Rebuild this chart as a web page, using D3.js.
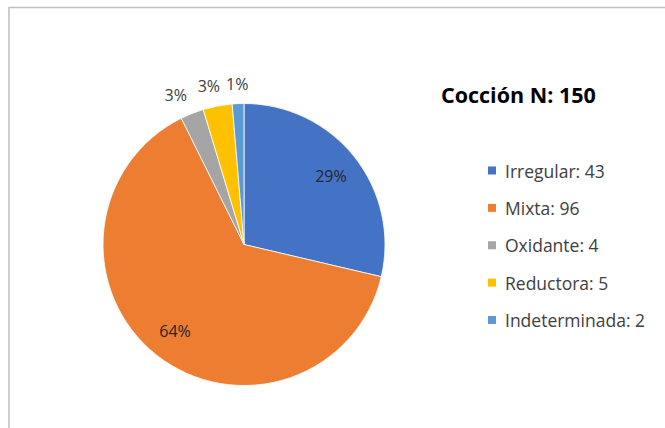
<!DOCTYPE html>
<html>
<head>
<meta charset="utf-8">
<script src="https://cdn.jsdelivr.net/npm/d3@7"></script>
<style>
  html, body { margin: 0; padding: 0; background: #fff; }
  svg { display: block; }
</style>
</head>
<body>
<svg id="chart" width="665" height="428"></svg>
<script>
const categories = ["Irregular", "Mixta", "Oxidante", "Reductora", "Indeterminada"];
const values = [43, 96, 4, 5, 2];
const colors = ["#4472C4", "#ED7D31", "#A5A5A5", "#FFC000", "#5B9BD5"];
const title = "Cocción N: 150";

const svg = d3.select("#chart");
const W = 665, H = 428;

// chart frame
svg.append("rect")
  .attr("x", 9).attr("y", 7.5)
  .attr("width", W + 10).attr("height", H + 10)
  .attr("fill", "#fff")
  .attr("stroke", "#bfbfbf").attr("stroke-width", 1.5);

const cx = 244, cy = 244.5, r = 141;
const total = d3.sum(values);
const data = categories.map((c, i) => ({ cat: c, value: values[i], color: colors[i] }));

const pie = d3.pie().value(d => d.value).sort(null);
const arcs = pie(data);
const arc = d3.arc().innerRadius(0).outerRadius(r);
const inLabelArc = d3.arc().innerRadius(111).outerRadius(111);
const outLabelArc = d3.arc().innerRadius(161).outerRadius(161);
// small horizontal nudges for outside labels to avoid overlap
const nudge = { 2: -9, 3: -5, 4: 0 };

const g = svg.append("g").attr("transform", `translate(${cx},${cy})`);

g.selectAll("path.slice")
  .data(arcs)
  .join("path")
  .attr("class", "slice")
  .attr("d", arc)
  .attr("fill", d => d.data.color)
  .attr("stroke", "#fff")
  .attr("stroke-width", 0.8);

g.selectAll("text.lbl")
  .data(arcs)
  .join("text")
  .attr("class", "lbl")
  .attr("transform", d => {
    const big = d.value / total > 0.1;
    const p = (big ? inLabelArc : outLabelArc).centroid(d);
    const dx = big ? 0 : (nudge[d.index] || 0);
    return `translate(${p[0] + dx},${p[1]})`;
  })
  .attr("text-anchor", "middle")
  .attr("dominant-baseline", "central")
  .attr("font-family", "'Open Sans', sans-serif")
  .attr("font-size", 16)
  .attr("fill", d => d.value / total > 0.1 ? "#262626" : "#404040")
  .text(d => Math.round(d.value / total * 100) + "%");

// title
svg.append("text")
  .attr("x", 441).attr("y", 94)
  .attr("dominant-baseline", "central")
  .attr("font-family", "'Open Sans', sans-serif")
  .attr("font-weight", "bold")
  .attr("font-size", 21.5)
  .attr("fill", "#000")
  .text(title);

// legend
const legY = d3.scalePoint().domain(categories).range([170.5, 320]);
const leg = svg.append("g").selectAll("g")
  .data(data)
  .join("g")
  .attr("transform", d => `translate(488,${legY(d.cat)})`);
leg.append("rect")
  .attr("x", 0).attr("y", -4)
  .attr("width", 8).attr("height", 8)
  .attr("fill", d => d.color);
leg.append("text")
  .attr("x", 17).attr("y", 0)
  .attr("dominant-baseline", "central")
  .attr("font-family", "'Open Sans', sans-serif")
  .attr("font-size", 17.5)
  .attr("fill", "#404040")
  .text(d => `${d.cat}: ${d.value}`);
</script>
</body>
</html>
